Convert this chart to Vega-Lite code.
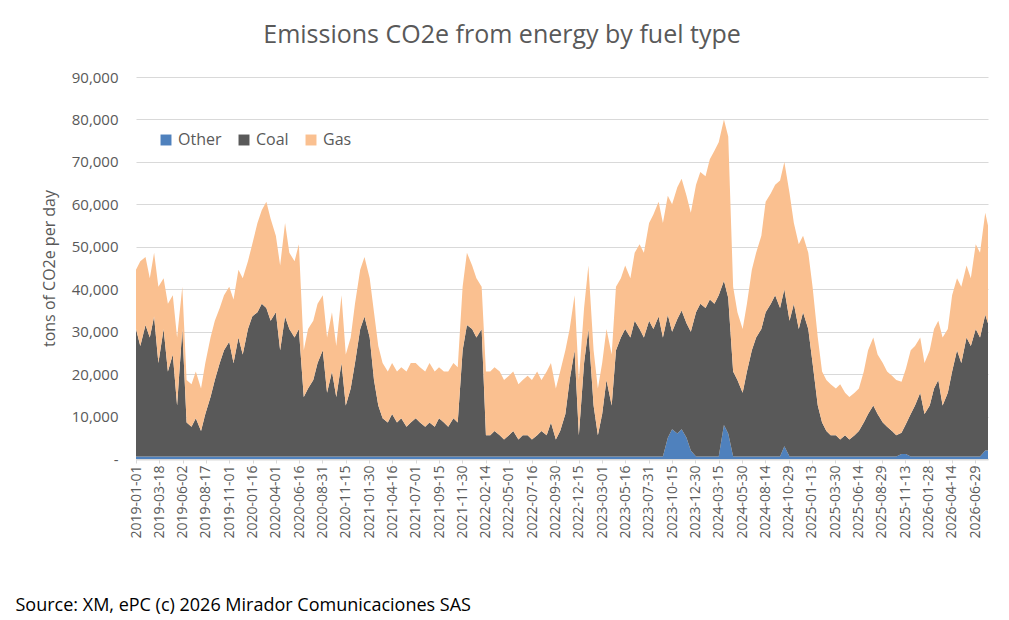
{
  "$schema": "https://vega.github.io/schema/vega-lite/v6.json",
  "width": 852, "height": 382,
  "autosize": "none",
  "padding": {"left": 136, "top": 77, "right": 21, "bottom": 161},
  "background": "white",
  "config": {"font": "Open Sans", "view": {"stroke": null}},
  "title": {"text": "Emissions CO2e from energy by fuel type", "fontSize": 25, "fontWeight": "normal", "color": "#595959", "offset": 22, "dx": -60},
  "data": {"values": [
    {"d":"2019-01-01","Other":600,"Coal":30000,"Gas":14000},{"d":"2019-01-15","Other":600,"Coal":26000,"Gas":20000},
    {"d":"2019-02-01","Other":600,"Coal":31000,"Gas":16000},{"d":"2019-02-15","Other":600,"Coal":28000,"Gas":14000},
    {"d":"2019-03-01","Other":600,"Coal":33000,"Gas":15000},{"d":"2019-03-15","Other":600,"Coal":22000,"Gas":18000},
    {"d":"2019-04-01","Other":600,"Coal":30000,"Gas":12000},{"d":"2019-04-15","Other":600,"Coal":20000,"Gas":16000},
    {"d":"2019-05-01","Other":600,"Coal":24000,"Gas":14000},{"d":"2019-05-15","Other":600,"Coal":12000,"Gas":16000},
    {"d":"2019-06-01","Other":600,"Coal":30000,"Gas":10000},{"d":"2019-06-15","Other":600,"Coal":8000,"Gas":10000},
    {"d":"2019-07-01","Other":600,"Coal":7000,"Gas":10000},{"d":"2019-07-15","Other":600,"Coal":9000,"Gas":11000},
    {"d":"2019-08-01","Other":600,"Coal":6000,"Gas":10000},{"d":"2019-08-15","Other":600,"Coal":10000,"Gas":12000},
    {"d":"2019-09-01","Other":600,"Coal":14000,"Gas":14000},{"d":"2019-09-15","Other":600,"Coal":18000,"Gas":14000},
    {"d":"2019-10-01","Other":600,"Coal":22000,"Gas":13000},{"d":"2019-10-15","Other":600,"Coal":25000,"Gas":13000},
    {"d":"2019-11-01","Other":600,"Coal":27000,"Gas":13000},{"d":"2019-11-15","Other":600,"Coal":22000,"Gas":15000},
    {"d":"2019-12-01","Other":600,"Coal":28000,"Gas":16000},{"d":"2019-12-15","Other":600,"Coal":24000,"Gas":18000},
    {"d":"2020-01-01","Other":600,"Coal":30000,"Gas":16000},{"d":"2020-01-15","Other":600,"Coal":33000,"Gas":17000},
    {"d":"2020-02-01","Other":600,"Coal":34000,"Gas":21000},{"d":"2020-02-15","Other":600,"Coal":36000,"Gas":22000},
    {"d":"2020-03-01","Other":600,"Coal":35000,"Gas":25000},{"d":"2020-03-15","Other":600,"Coal":32000,"Gas":24000},
    {"d":"2020-04-01","Other":600,"Coal":34000,"Gas":18000},{"d":"2020-04-15","Other":600,"Coal":25000,"Gas":20000},
    {"d":"2020-05-01","Other":600,"Coal":33000,"Gas":22000},{"d":"2020-05-15","Other":600,"Coal":30000,"Gas":18000},
    {"d":"2020-06-01","Other":600,"Coal":28000,"Gas":18000},{"d":"2020-06-15","Other":600,"Coal":30000,"Gas":20000},
    {"d":"2020-07-01","Other":600,"Coal":14000,"Gas":11000},{"d":"2020-07-15","Other":600,"Coal":16000,"Gas":14000},
    {"d":"2020-08-01","Other":600,"Coal":18000,"Gas":14000},{"d":"2020-08-15","Other":600,"Coal":22000,"Gas":14000},
    {"d":"2020-09-01","Other":600,"Coal":25000,"Gas":13000},{"d":"2020-09-15","Other":600,"Coal":15000,"Gas":13000},
    {"d":"2020-10-01","Other":600,"Coal":20000,"Gas":14000},{"d":"2020-10-15","Other":600,"Coal":14000,"Gas":12000},
    {"d":"2020-11-01","Other":600,"Coal":22000,"Gas":16000},{"d":"2020-11-15","Other":600,"Coal":12000,"Gas":12000},
    {"d":"2020-12-01","Other":600,"Coal":16000,"Gas":12000},{"d":"2020-12-15","Other":600,"Coal":22000,"Gas":14000},
    {"d":"2021-01-01","Other":600,"Coal":30000,"Gas":14000},{"d":"2021-01-15","Other":600,"Coal":33000,"Gas":14000},
    {"d":"2021-02-01","Other":600,"Coal":28000,"Gas":14000},{"d":"2021-02-15","Other":600,"Coal":18000,"Gas":16000},
    {"d":"2021-03-01","Other":600,"Coal":12000,"Gas":14000},{"d":"2021-03-15","Other":600,"Coal":9000,"Gas":13000},
    {"d":"2021-04-01","Other":600,"Coal":8000,"Gas":12000},{"d":"2021-04-15","Other":600,"Coal":10000,"Gas":12000},
    {"d":"2021-05-01","Other":600,"Coal":8000,"Gas":12000},{"d":"2021-05-15","Other":600,"Coal":9000,"Gas":12000},
    {"d":"2021-06-01","Other":600,"Coal":7000,"Gas":13000},{"d":"2021-06-15","Other":600,"Coal":8000,"Gas":14000},
    {"d":"2021-07-01","Other":600,"Coal":9000,"Gas":13000},{"d":"2021-07-15","Other":600,"Coal":8000,"Gas":13000},
    {"d":"2021-08-01","Other":600,"Coal":7000,"Gas":13000},{"d":"2021-08-15","Other":600,"Coal":8000,"Gas":14000},
    {"d":"2021-09-01","Other":600,"Coal":7000,"Gas":13000},{"d":"2021-09-15","Other":600,"Coal":9000,"Gas":12000},
    {"d":"2021-10-01","Other":600,"Coal":8000,"Gas":12000},{"d":"2021-10-15","Other":600,"Coal":7000,"Gas":13000},
    {"d":"2021-11-01","Other":600,"Coal":9000,"Gas":13000},{"d":"2021-11-15","Other":600,"Coal":8000,"Gas":13000},
    {"d":"2021-12-01","Other":600,"Coal":25000,"Gas":15000},{"d":"2021-12-15","Other":600,"Coal":31000,"Gas":17000},
    {"d":"2022-01-01","Other":600,"Coal":30000,"Gas":15000},{"d":"2022-01-15","Other":600,"Coal":28000,"Gas":14000},
    {"d":"2022-02-01","Other":600,"Coal":30000,"Gas":10000},{"d":"2022-02-15","Other":600,"Coal":5000,"Gas":15000},
    {"d":"2022-03-01","Other":600,"Coal":5000,"Gas":15000},{"d":"2022-03-15","Other":600,"Coal":6000,"Gas":15000},
    {"d":"2022-04-01","Other":600,"Coal":5000,"Gas":15000},{"d":"2022-04-15","Other":600,"Coal":4000,"Gas":14000},
    {"d":"2022-05-01","Other":600,"Coal":5000,"Gas":14000},{"d":"2022-05-15","Other":600,"Coal":6000,"Gas":14000},
    {"d":"2022-06-01","Other":600,"Coal":4000,"Gas":13000},{"d":"2022-06-15","Other":600,"Coal":5000,"Gas":13000},
    {"d":"2022-07-01","Other":600,"Coal":5000,"Gas":14000},{"d":"2022-07-15","Other":600,"Coal":4000,"Gas":14000},
    {"d":"2022-08-01","Other":600,"Coal":5000,"Gas":15000},{"d":"2022-08-15","Other":600,"Coal":6000,"Gas":12000},
    {"d":"2022-09-01","Other":600,"Coal":5000,"Gas":15000},{"d":"2022-09-15","Other":600,"Coal":8000,"Gas":14000},
    {"d":"2022-10-01","Other":600,"Coal":4000,"Gas":12000},{"d":"2022-10-15","Other":600,"Coal":6000,"Gas":14000},
    {"d":"2022-11-01","Other":600,"Coal":10000,"Gas":15000},{"d":"2022-11-15","Other":600,"Coal":18000,"Gas":12000},
    {"d":"2022-12-01","Other":600,"Coal":25000,"Gas":13000},{"d":"2022-12-15","Other":600,"Coal":5000,"Gas":13000},
    {"d":"2023-01-01","Other":600,"Coal":22000,"Gas":13000},{"d":"2023-01-15","Other":600,"Coal":30000,"Gas":15000},
    {"d":"2023-02-01","Other":600,"Coal":12000,"Gas":13000},{"d":"2023-02-15","Other":600,"Coal":5000,"Gas":11000},
    {"d":"2023-03-01","Other":600,"Coal":10000,"Gas":12000},{"d":"2023-03-15","Other":600,"Coal":18000,"Gas":12000},
    {"d":"2023-04-01","Other":600,"Coal":12000,"Gas":12000},{"d":"2023-04-15","Other":600,"Coal":25000,"Gas":15000},
    {"d":"2023-05-01","Other":600,"Coal":28000,"Gas":14000},{"d":"2023-05-15","Other":600,"Coal":30000,"Gas":15000},
    {"d":"2023-06-01","Other":600,"Coal":28000,"Gas":14000},{"d":"2023-06-15","Other":600,"Coal":32000,"Gas":16000},
    {"d":"2023-07-01","Other":600,"Coal":30000,"Gas":20000},{"d":"2023-07-15","Other":600,"Coal":28000,"Gas":20000},
    {"d":"2023-08-01","Other":600,"Coal":32000,"Gas":23000},{"d":"2023-08-15","Other":600,"Coal":30000,"Gas":27000},
    {"d":"2023-09-01","Other":600,"Coal":33000,"Gas":27000},{"d":"2023-09-15","Other":600,"Coal":28000,"Gas":27000},
    {"d":"2023-10-01","Other":5000,"Coal":29000,"Gas":28000},{"d":"2023-10-15","Other":7000,"Coal":23000,"Gas":30000},
    {"d":"2023-11-01","Other":6000,"Coal":27000,"Gas":31000},{"d":"2023-11-15","Other":7000,"Coal":28000,"Gas":31000},
    {"d":"2023-12-01","Other":5000,"Coal":27000,"Gas":30000},{"d":"2023-12-15","Other":2000,"Coal":28000,"Gas":28000},
    {"d":"2024-01-01","Other":600,"Coal":34000,"Gas":30000},{"d":"2024-01-15","Other":600,"Coal":36000,"Gas":31000},
    {"d":"2024-02-01","Other":600,"Coal":35000,"Gas":31000},{"d":"2024-02-15","Other":600,"Coal":37000,"Gas":33000},
    {"d":"2024-03-01","Other":600,"Coal":36000,"Gas":36000},{"d":"2024-03-15","Other":600,"Coal":38000,"Gas":36000},
    {"d":"2024-04-01","Other":8000,"Coal":34000,"Gas":38000},{"d":"2024-04-15","Other":6000,"Coal":32000,"Gas":38000},
    {"d":"2024-05-01","Other":600,"Coal":20000,"Gas":20000},{"d":"2024-05-15","Other":600,"Coal":18000,"Gas":16000},
    {"d":"2024-06-01","Other":600,"Coal":15000,"Gas":15000},{"d":"2024-06-15","Other":600,"Coal":20000,"Gas":16000},
    {"d":"2024-07-01","Other":600,"Coal":25000,"Gas":19000},{"d":"2024-07-15","Other":600,"Coal":28000,"Gas":20000},
    {"d":"2024-08-01","Other":600,"Coal":30000,"Gas":22000},{"d":"2024-08-15","Other":600,"Coal":34000,"Gas":26000},
    {"d":"2024-09-01","Other":600,"Coal":36000,"Gas":26000},{"d":"2024-09-15","Other":600,"Coal":38000,"Gas":26000},
    {"d":"2024-10-01","Other":600,"Coal":35000,"Gas":30000},{"d":"2024-10-15","Other":3000,"Coal":37000,"Gas":30000},
    {"d":"2024-11-01","Other":600,"Coal":32000,"Gas":30000},{"d":"2024-11-15","Other":600,"Coal":36000,"Gas":19000},
    {"d":"2024-12-01","Other":600,"Coal":30000,"Gas":20000},{"d":"2024-12-15","Other":600,"Coal":34000,"Gas":18000},
    {"d":"2025-01-01","Other":600,"Coal":30000,"Gas":18000},{"d":"2025-01-15","Other":600,"Coal":22000,"Gas":18000},
    {"d":"2025-02-01","Other":600,"Coal":12000,"Gas":16000},{"d":"2025-02-15","Other":600,"Coal":8000,"Gas":12000},
    {"d":"2025-03-01","Other":600,"Coal":6000,"Gas":12000},{"d":"2025-03-15","Other":600,"Coal":5000,"Gas":12000},
    {"d":"2025-04-01","Other":600,"Coal":5000,"Gas":11000},{"d":"2025-04-15","Other":600,"Coal":4000,"Gas":13000},
    {"d":"2025-05-01","Other":600,"Coal":5000,"Gas":10000},{"d":"2025-05-15","Other":600,"Coal":4000,"Gas":10000},
    {"d":"2025-06-01","Other":600,"Coal":5000,"Gas":10000},{"d":"2025-06-15","Other":600,"Coal":6000,"Gas":10000},
    {"d":"2025-07-01","Other":600,"Coal":8000,"Gas":12000},{"d":"2025-07-15","Other":600,"Coal":10000,"Gas":15000},
    {"d":"2025-08-01","Other":600,"Coal":12000,"Gas":16000},{"d":"2025-08-15","Other":600,"Coal":10000,"Gas":14000},
    {"d":"2025-09-01","Other":600,"Coal":8000,"Gas":14000},{"d":"2025-09-15","Other":600,"Coal":7000,"Gas":13000},
    {"d":"2025-10-01","Other":600,"Coal":6000,"Gas":13000},{"d":"2025-10-15","Other":600,"Coal":5000,"Gas":13000},
    {"d":"2025-11-01","Other":1200,"Coal":5000,"Gas":12000},{"d":"2025-11-15","Other":1200,"Coal":7000,"Gas":13000},
    {"d":"2025-12-01","Other":600,"Coal":10000,"Gas":15000},{"d":"2025-12-15","Other":600,"Coal":12000,"Gas":14000},
    {"d":"2026-01-01","Other":600,"Coal":15000,"Gas":13000},{"d":"2026-01-15","Other":600,"Coal":10000,"Gas":12000},
    {"d":"2026-02-01","Other":600,"Coal":12000,"Gas":13000},{"d":"2026-02-15","Other":600,"Coal":16000,"Gas":14000},
    {"d":"2026-03-01","Other":600,"Coal":18000,"Gas":14000},{"d":"2026-03-15","Other":600,"Coal":12000,"Gas":16000},
    {"d":"2026-04-01","Other":600,"Coal":15000,"Gas":15000},{"d":"2026-04-15","Other":600,"Coal":20000,"Gas":18000},
    {"d":"2026-05-01","Other":600,"Coal":25000,"Gas":17000},{"d":"2026-05-15","Other":600,"Coal":22000,"Gas":18000},
    {"d":"2026-06-01","Other":600,"Coal":28000,"Gas":17000},{"d":"2026-06-15","Other":600,"Coal":26000,"Gas":16000},
    {"d":"2026-07-01","Other":600,"Coal":30000,"Gas":20000},{"d":"2026-07-15","Other":600,"Coal":28000,"Gas":20000},
    {"d":"2026-08-01","Other":2000,"Coal":32000,"Gas":24000},{"d":"2026-08-10","Other":2000,"Coal":30000,"Gas":23000}
  ]},
  "transform": [
    {"fold": ["Other", "Coal", "Gas"], "as": ["fuel", "tons"]},
    {"calculate": "indexof(['Other','Coal','Gas'], datum.fuel)", "as": "k"}
  ],
  "mark": {"type": "area", "interpolate": "linear"},
  "encoding": {
    "x": {
      "field": "d", "type": "temporal",
      "scale": {"type": "utc", "domain": [{"year": 2019, "month": 1, "date": 1, "utc": true}, {"year": 2026, "month": 8, "date": 10, "utc": true}]},
      "axis": {
        "format": "%Y-%m-%d", "labelAngle": -90, "labelFontSize": 14, "labelColor": "#595959",
        "grid": false, "domainColor": "#d9d9d9", "domainWidth": 2, "tickColor": "#d9d9d9", "tickSize": 4,
        "values": [
          {"year":2019,"month":1,"date":1,"utc":true},{"year":2019,"month":3,"date":18,"utc":true},{"year":2019,"month":6,"date":2,"utc":true},{"year":2019,"month":8,"date":17,"utc":true},{"year":2019,"month":11,"date":1,"utc":true},
          {"year":2020,"month":1,"date":16,"utc":true},{"year":2020,"month":4,"date":1,"utc":true},{"year":2020,"month":6,"date":16,"utc":true},{"year":2020,"month":8,"date":31,"utc":true},{"year":2020,"month":11,"date":15,"utc":true},
          {"year":2021,"month":1,"date":30,"utc":true},{"year":2021,"month":4,"date":16,"utc":true},{"year":2021,"month":7,"date":1,"utc":true},{"year":2021,"month":9,"date":15,"utc":true},{"year":2021,"month":11,"date":30,"utc":true},
          {"year":2022,"month":2,"date":14,"utc":true},{"year":2022,"month":5,"date":1,"utc":true},{"year":2022,"month":7,"date":16,"utc":true},{"year":2022,"month":9,"date":30,"utc":true},{"year":2022,"month":12,"date":15,"utc":true},
          {"year":2023,"month":3,"date":1,"utc":true},{"year":2023,"month":5,"date":16,"utc":true},{"year":2023,"month":7,"date":31,"utc":true},{"year":2023,"month":10,"date":15,"utc":true},{"year":2023,"month":12,"date":30,"utc":true},
          {"year":2024,"month":3,"date":15,"utc":true},{"year":2024,"month":5,"date":30,"utc":true},{"year":2024,"month":8,"date":14,"utc":true},{"year":2024,"month":10,"date":29,"utc":true},
          {"year":2025,"month":1,"date":13,"utc":true},{"year":2025,"month":3,"date":30,"utc":true},{"year":2025,"month":6,"date":14,"utc":true},{"year":2025,"month":8,"date":29,"utc":true},{"year":2025,"month":11,"date":13,"utc":true},
          {"year":2026,"month":1,"date":28,"utc":true},{"year":2026,"month":4,"date":14,"utc":true},{"year":2026,"month":6,"date":29,"utc":true}
        ],
        "title": "Source: XM, ePC (c) 2026 Mirador Comunicaciones SAS",
        "titleFontSize": 18, "titleFontWeight": "normal", "titleColor": "#000000",
        "titleAnchor": "start", "titleAlign": "left", "titleX": -121, "titleY": 146, "titleBaseline": "middle"
      }
    },
    "y": {
      "field": "tons", "type": "quantitative", "stack": "zero",
      "scale": {"domain": [0, 90000]},
      "axis": {
        "values": [0,10000,20000,30000,40000,50000,60000,70000,80000,90000],
        "labelExpr": "datum.value == 0 ? '-' : format(datum.value, ',')",
        "labelFontSize": 15, "labelColor": "#595959", "labelPadding": 18,
        "domain": false, "ticks": false, "gridColor": "#d9d9d9",
        "title": "tons of CO2e per day", "titleFontSize": 16, "titleFontWeight": "normal", "titleColor": "#595959", "titlePadding": 14
      }
    },
    "color": {
      "field": "fuel", "type": "nominal", "sort": ["Other", "Coal", "Gas"],
      "scale": {"domain": ["Other", "Coal", "Gas"], "range": ["#4f81bd", "#595959", "#fac090"]},
      "legend": {
        "title": null, "orient": "none", "legendX": 22, "legendY": 55, "direction": "horizontal",
        "symbolType": "square", "symbolSize": 120, "symbolStrokeWidth": 0, "labelFontSize": 16, "labelColor": "#595959", "columnPadding": 14
      }
    },
    "order": {"field": "k", "type": "quantitative", "sort": "ascending"}
  }
}
